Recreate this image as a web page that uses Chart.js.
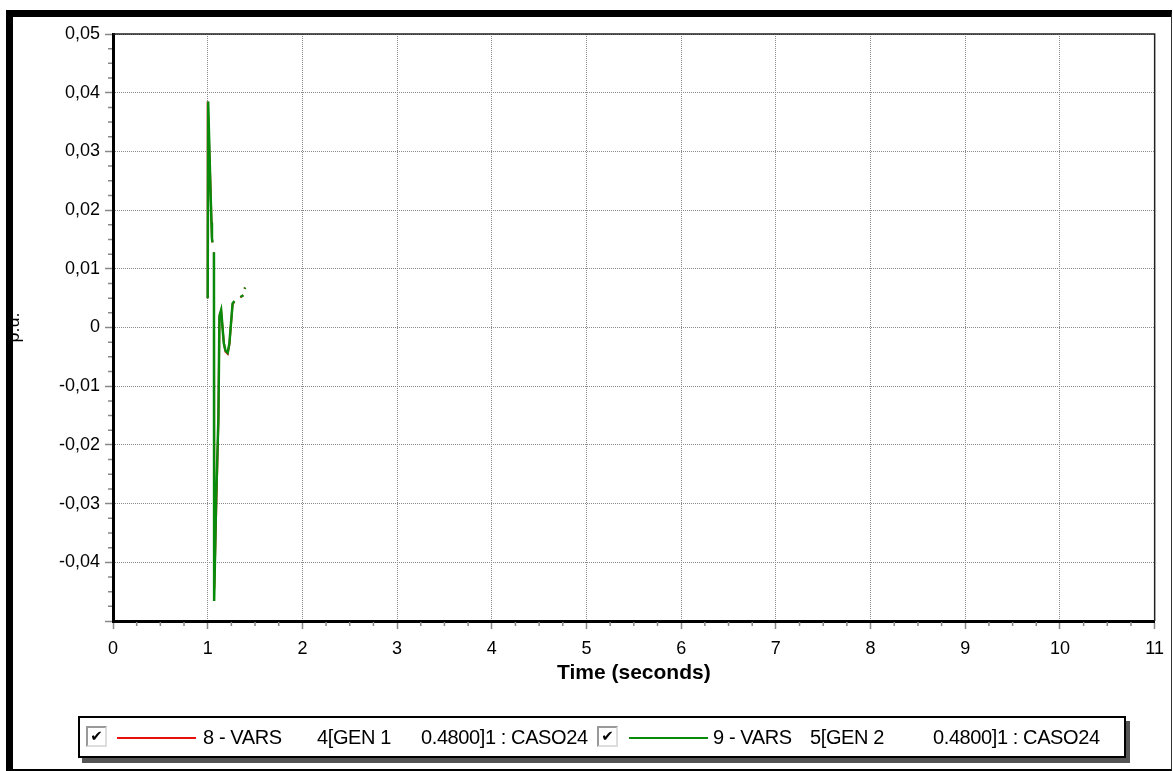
<!DOCTYPE html>
<html>
<head>
<meta charset="utf-8">
<script src="https://cdn.jsdelivr.net/npm/chart.js@4/dist/chart.umd.min.js"></script>
<style>
  html, body { margin: 0; padding: 0; background: #fff; }
  #wrap { position: relative; width: 1173px; height: 771px; overflow: hidden; font-family: 'Liberation Sans', Arial, sans-serif; }
  #chart { position: absolute; left: 0; top: 0; }
  #frame { position: absolute; left: 6px; top: 10px; width: 1166px; height: 761px; box-sizing: border-box;
           border-left: 7px solid #000; border-top: 7px solid #000; border-right: 1px solid #333; border-bottom: 2px solid #000; pointer-events: none; }
  #legend { position: absolute; left: 78px; top: 716px; width: 1048px; height: 42px; box-sizing: border-box;
            border: 2px solid #000; background: #fff; box-shadow: 4px 5px 0 #555; }
  .lg { position: absolute; top: 0; height: 38px; line-height: 38px; font-size: 20px; color: #000; white-space: pre; letter-spacing: -0.4px; }
  .cb { position: absolute; top: 8px; width: 21px; height: 21px; box-sizing: border-box; background: #fff;
        border-top: 2px solid #999; border-left: 2px solid #999; border-right: 2px solid #ddd; border-bottom: 2px solid #ddd;
        font-size: 15px; line-height: 16px; text-align: center; font-family: 'DejaVu Sans', sans-serif; font-weight: bold; }
  .sw { position: absolute; top: 19px; height: 2px; }
</style>
</head>
<body>
<div id="wrap">
  <canvas id="chart" width="1173" height="771"></canvas>
  <div id="frame"></div>
  <div id="legend"></div>
</div>
<script>
// time (s) and reactive power (p.u.)
var timeGen1 = [1.0, 1.0, 1.03, 1.04, 1.045, 1.05, 1.055, 1.066, 1.07, 1.09, 1.113, 1.124, 1.142, 1.159, 1.17, 1.187, 1.211, 1.229, 1.246, 1.263, 1.282, 1.31, 1.345, 1.376, 1.383, 1.39, 1.395];
var varsGen1 = [0.005, 0.0385, 0.024, 0.018, 0.0152, 0.0145, null, 0.0128, -0.0445, -0.031, -0.016, 0.0015, 0.0028, -0.0003, -0.0025, -0.0041, -0.0045, -0.0029, 0.0005, 0.004, 0.0044, null, 0.0051, 0.0055, null, 0.0066, 0.0068];

var timeGen2 = [1.0, 1.005, 1.03, 1.04, 1.045, 1.05, 1.055, 1.066, 1.068, 1.089, 1.113, 1.124, 1.142, 1.159, 1.17, 1.187, 1.211, 1.229, 1.246, 1.263, 1.282, 1.31, 1.345, 1.376, 1.383, 1.39, 1.395];
var varsGen2 = [0.005, 0.0385, 0.023, 0.0178, 0.0152, 0.0145, null, 0.0128, -0.0466, -0.0295, -0.0154, 0.002, 0.003, -0.0005, -0.0027, -0.0039, -0.0043, -0.0027, 0.0007, 0.0041, 0.0045, null, 0.0052, 0.0055, null, 0.0066, 0.0068];

var xTicks = [0, 1, 2, 3, 4, 5, 6, 7, 8, 9, 10, 11];
var yTicks = [-0.05, -0.04, -0.03, -0.02, -0.01, 0, 0.01, 0.02, 0.03, 0.04, 0.05];

var seriesNames = ['8 - VARS', '9 - VARS'];
var seriesBus = ['4[GEN 1', '5[GEN 2'];
var seriesCase = ['0.4800]1 : CASO24', '0.4800]1 : CASO24'];
var seriesColors = ['#e8100c', '#0a8a0a'];

function toPoints(t, v) {
  return t.map(function (x, i) { return { x: x, y: v[i] }; });
}

// short minor ticks + thin top/right frame of the plot
var extras = {
  id: 'extras',
  afterDraw: function (chart) {
    var ctx = chart.ctx, a = chart.chartArea;
    var xs = chart.scales.x, ys = chart.scales.y;
    ctx.save();
    ctx.strokeStyle = '#888';
    ctx.lineWidth = 1.5;
    ctx.beginPath();
    for (var i = 0; i < xTicks.length - 1; i++) {
      for (var k = 1; k < 4; k++) {
        var px = xs.getPixelForValue(xTicks[i] + k * 0.25);
        ctx.moveTo(px, a.bottom + 1); ctx.lineTo(px, a.bottom + 5);
      }
    }
    for (var j = 0; j < yTicks.length - 1; j++) {
      for (var m = 1; m < 4; m++) {
        var py = ys.getPixelForValue(yTicks[j] + m * 0.0025);
        ctx.moveTo(a.left - 1, py); ctx.lineTo(a.left - 5, py);
      }
    }
    ctx.stroke();
    ctx.strokeStyle = '#222';
    ctx.lineWidth = 1.5;
    ctx.beginPath();
    ctx.moveTo(a.left, a.top); ctx.lineTo(a.right, a.top); ctx.lineTo(a.right, a.bottom);
    ctx.stroke();
    ctx.restore();
  }
};

var grid = { color: '#8a8a8a', lineWidth: 1, tickColor: '#888', tickLength: 8, tickWidth: 1.5 };
var border = { color: '#000', width: 3, dash: [1, 1] };

new Chart(document.getElementById('chart'), {
  type: 'line',
  data: {
    datasets: [
      { label: seriesNames[0], data: toPoints(timeGen1, varsGen1), borderColor: seriesColors[0], borderWidth: 2, pointRadius: 0, tension: 0, spanGaps: false, order: 2 },
      { label: seriesNames[1], data: toPoints(timeGen2, varsGen2), borderColor: seriesColors[1], borderWidth: 2.5, pointRadius: 0, tension: 0, spanGaps: false, order: 1 }
    ]
  },
  options: {
    responsive: false, animation: false, events: [],
    layout: { padding: { left: 0, top: 34, right: 13, bottom: 80 } },
    plugins: { legend: { display: false }, tooltip: { enabled: false } },
    scales: {
      x: {
        type: 'linear', min: 0, max: 11,
        grid: grid, border: border,
        afterBuildTicks: function (s) { s.ticks = xTicks.map(function (v) { return { value: v }; }); },
        afterFit: function (s) { s.height = 70; },
        ticks: { color: '#000', padding: 9, maxRotation: 0, font: { family: 'Liberation Sans', size: 18 } },
        title: { display: true, text: 'Time (seconds)', color: '#000', padding: { top: 0, bottom: 5 },
                 font: { family: 'Liberation Sans', size: 21, weight: 'bold' } }
      },
      y: {
        type: 'linear', min: -0.05, max: 0.05,
        grid: grid, border: border,
        afterBuildTicks: function (s) { s.ticks = yTicks.map(function (v) { return { value: v }; }); },
        afterFit: function (s) { s.width = 113; },
        ticks: {
          color: '#000', padding: 5, font: { family: 'Liberation Sans', size: 18 },
          callback: function (v) {
            var r = Math.round(v * 100) / 100;
            if (r === -0.05) return '';
            if (r === 0) return '0';
            return r.toFixed(2).replace('.', ',');
          }
        },
        title: { display: true, text: 'p.u.', color: '#000', padding: { top: 3, bottom: 0 },
                 font: { family: 'Liberation Sans', size: 18 } }
      }
    }
  },
  plugins: [extras]
});

// legend box (HTML, like the original control)
var lg = document.getElementById('legend');
var offs = [
  { cb: 6, sw: 37, name: 123, bus: 237, cs: 341 },
  { cb: 517, sw: 549, name: 633, bus: 730, cs: 853 }
];
seriesNames.forEach(function (n, i) {
  var o = offs[i];
  lg.insertAdjacentHTML('beforeend',
    '<span class="cb" style="left:' + o.cb + 'px">\u2714</span>' +
    '<span class="sw" style="left:' + o.sw + 'px;width:79px;background:' + seriesColors[i] + '"></span>' +
    '<span class="lg" style="left:' + o.name + 'px">' + n + '</span>' +
    '<span class="lg" style="left:' + o.bus + 'px">' + seriesBus[i] + '</span>' +
    '<span class="lg" style="left:' + o.cs + 'px">' + seriesCase[i] + '</span>');
});
</script>
</body>
</html>
